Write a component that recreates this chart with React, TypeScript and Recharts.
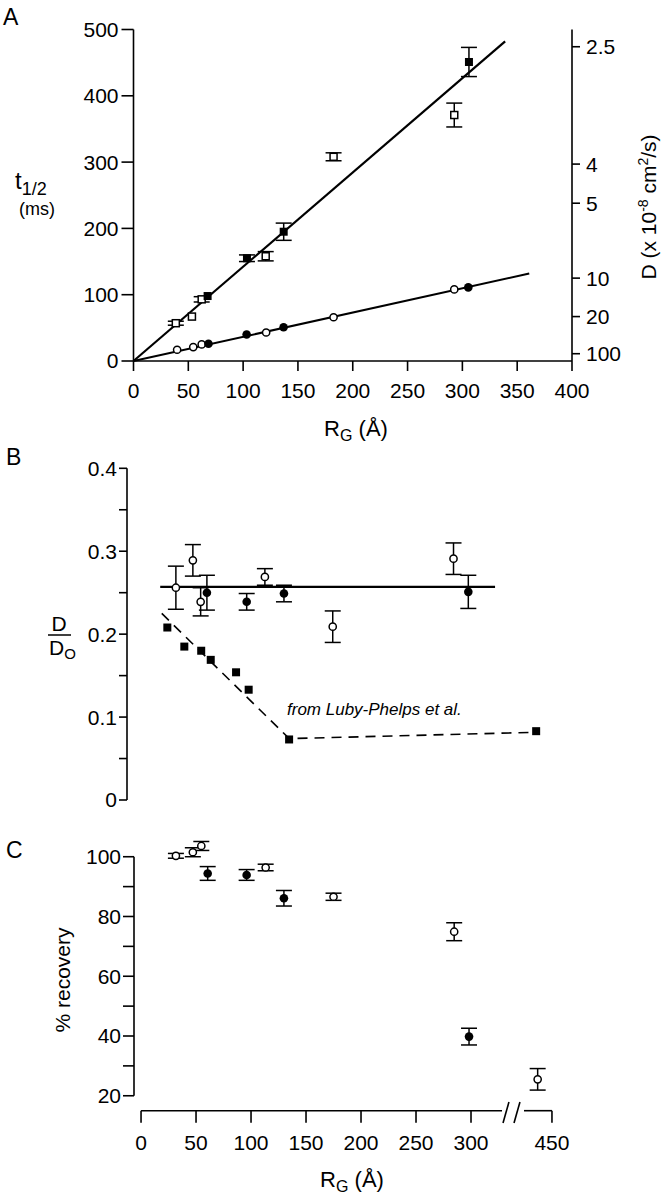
import React from "react";
import { ScatterChart, Scatter, XAxis, YAxis, ErrorBar, ReferenceLine } from "recharts";

// ---------- Panel A data (R_G in Å, t1/2 in ms) ----------
const aFilledSquares = [
  { r: 67.6, t: 98, err: 0 },
  { r: 103.5, t: 155, err: 5 },
  { r: 137, t: 195, err: 13 },
  { r: 306, t: 451, err: 22 },
];
const aOpenSquares = [
  { r: 38.6, t: 57, err: 3 },
  { r: 53.3, t: 67, err: 0 },
  { r: 62.2, t: 93, err: 4 },
  { r: 120.6, t: 158, err: 7 },
  { r: 182.5, t: 308, err: 6 },
  { r: 292.6, t: 371, err: 18 },
];
const aOpenCircles = [
  { r: 39.8, t: 17 },
  { r: 54.5, t: 21 },
  { r: 62.2, t: 25 },
  { r: 121, t: 43 },
  { r: 182.5, t: 66 },
  { r: 292.6, t: 108 },
];
const aFilledCircles = [
  { r: 68.4, t: 26 },
  { r: 103.2, t: 40 },
  { r: 136.9, t: 51 },
  { r: 305.4, t: 111 },
];
const aSteepFit = [
  { r: 0, t: 0 },
  { r: 339, t: 482 },
];
const aShallowFit = [
  { r: 0, t: 0 },
  { r: 361, t: 132 },
];
const aXTicks = [0, 50, 100, 150, 200, 250, 300, 350, 400];
const aYTicks = [0, 100, 200, 300, 400, 500];
const aRightTickT = [474, 297, 238, 125, 67, 11];
const aRightTickLabels = ["2.5", "4", "5", "10", "20", "100"];

// ---------- Panel B data (R_G in Å, D/Do) ----------
const bOpenCircles = [
  { r: 38.6, v: 0.256, err: 0.026 },
  { r: 54.1, v: 0.289, err: 0.019 },
  { r: 61.2, v: 0.239, err: 0.017 },
  { r: 119.8, v: 0.269, err: 0.01 },
  { r: 181.7, v: 0.209, err: 0.019 },
  { r: 291.9, v: 0.291, err: 0.019 },
];
const bFilledCircles = [
  { r: 66.9, v: 0.25, err: 0.021 },
  { r: 103.2, v: 0.239, err: 0.01 },
  { r: 137.2, v: 0.249, err: 0.01 },
  { r: 305.4, v: 0.251, err: 0.02 },
];
const bLubyPhelps = [
  { r: 30.8, v: 0.208 },
  { r: 46.3, v: 0.185 },
  { r: 61.7, v: 0.18 },
  { r: 70.4, v: 0.169 },
  { r: 93.5, v: 0.154 },
  { r: 105, v: 0.133 },
  { r: 141.9, v: 0.073 },
  { r: 367.3, v: 0.083 },
];
const bMeanLine = [
  { r: 24.3, v: 0.257 },
  { r: 329.8, v: 0.257 },
];
const bLubyFit = [
  { r: 25.7, v: 0.225 },
  { r: 142, v: 0.074 },
  { r: 362, v: 0.0815 },
];
const bYTicks = [0, 0.05, 0.1, 0.15, 0.2, 0.25, 0.3, 0.35, 0.4];
const bYTickLabels = ["0", "", "0.1", "", "0.2", "", "0.3", "", "0.4"];

// ---------- Panel C data (R_G in Å, % recovery) ----------
const cOpenCircles = [
  { r: 31.7, v: 100.3, err: 0.8 },
  { r: 47.1, v: 101.5, err: 1.5 },
  { r: 54.8, v: 103.6, err: 1.5 },
  { r: 113.3, v: 96.4, err: 1.1 },
  { r: 175, v: 86.6, err: 1.2 },
  { r: 284.7, v: 74.9, err: 3 },
  { r: 437, v: 25.5, err: 3.6 },
];
const cFilledCircles = [
  { r: 60.6, v: 94.4, err: 2.3 },
  { r: 96, v: 93.9, err: 1.8 },
  { r: 129.9, v: 86.1, err: 2.6 },
  { r: 298.2, v: 39.8, err: 2.8 },
];
const cXTickValues = [0, 50, 100, 150, 200, 250, 300, 450];
const cXTickLabels = ["0", "50", "100", "150", "200", "250", "300", "450"];
const cYTicks = [20, 30, 40, 50, 60, 70, 80, 90, 100];
const cYTickLabels = ["20", "", "40", "", "60", "", "80", "", "100"];

// broken x axis in panel C
const C_BREAK_AT = 320;
const C_BREAK_SHIFT = 76.4;
const toDisplay = (r: number) => (r > C_BREAK_AT ? r - C_BREAK_SHIFT : r);

const FONT = "'Liberation Sans', Arial, Helvetica, sans-serif";
const TICK = { fill: "#000", fontSize: 21, fontFamily: FONT };
const AX = { stroke: "#000", strokeWidth: 1.6 };

const FilledSquare = (p: any) => <rect x={p.cx - 4} y={p.cy - 4} width={8} height={8} fill="#000" />;
const OpenSquare = (p: any) => (
  <rect x={p.cx - 3.5} y={p.cy - 3.5} width={7} height={7} fill="#fff" stroke="#000" strokeWidth={1.5} />
);
const OpenCircle = (p: any) => <circle cx={p.cx} cy={p.cy} r={3.6} fill="#fff" stroke="#000" strokeWidth={1.5} />;
const FilledCircle = (p: any) => <circle cx={p.cx} cy={p.cy} r={4.3} fill="#000" />;
const NoShape = () => <g />;

function PanelA() {
  return (
    <ScatterChart width={664} height={440} margin={{ top: 29.5, left: 73.5, right: 32, bottom: 49 }}>
      <XAxis
        type="number"
        dataKey="r"
        domain={[0, 400]}
        ticks={aXTicks}
        interval={0}
        tickSize={10}
        tickMargin={12}
        axisLine={AX}
        tickLine={AX}
        tick={TICK}
        height={30}
      />
      <YAxis
        type="number"
        dataKey="t"
        domain={[0, 500]}
        ticks={aYTicks}
        interval={0}
        tickSize={12}
        tickMargin={3}
        axisLine={AX}
        tickLine={AX}
        tick={TICK}
        width={60}
      />
      <YAxis
        yAxisId="right"
        orientation="right"
        type="number"
        dataKey="t"
        domain={[0, 500]}
        ticks={aRightTickT}
        interval={0}
        tickFormatter={(_v: any, i: number) => aRightTickLabels[i]}
        tickSize={8}
        tickMargin={6}
        axisLine={AX}
        tickLine={AX}
        tick={TICK}
        width={60}
      />
      <Scatter data={aSteepFit} shape={NoShape} line={{ stroke: "#000", strokeWidth: 2.2 }} lineType="joint" isAnimationActive={false} />
      <Scatter
        yAxisId="right"
        data={aShallowFit}
        shape={NoShape}
        line={{ stroke: "#000", strokeWidth: 2 }}
        lineType="joint"
        isAnimationActive={false}
      />
      <Scatter data={aOpenSquares} shape={OpenSquare} isAnimationActive={false}>
        <ErrorBar dataKey="err" direction="y" width={8} stroke="#000" strokeWidth={1.5} />
      </Scatter>
      <Scatter data={aFilledSquares} shape={FilledSquare} isAnimationActive={false}>
        <ErrorBar dataKey="err" direction="y" width={8} stroke="#000" strokeWidth={1.5} />
      </Scatter>
      <Scatter data={aOpenCircles} shape={OpenCircle} isAnimationActive={false} />
      <Scatter data={aFilledCircles} shape={FilledCircle} isAnimationActive={false} />
    </ScatterChart>
  );
}

function PanelB() {
  return (
    <ScatterChart width={664} height={380} margin={{ top: 28.3, left: 67, right: 92, bottom: 20 }}>
      <XAxis type="number" dataKey="r" domain={[-6, 400]} hide />
      <YAxis
        type="number"
        dataKey="v"
        domain={[0, 0.4]}
        ticks={bYTicks}
        interval={0}
        tickFormatter={(_v: any, i: number) => bYTickLabels[i]}
        tickSize={8}
        tickMargin={2}
        axisLine={AX}
        tickLine={AX}
        tick={TICK}
        width={60}
      />
      <Scatter data={bMeanLine} shape={NoShape} line={{ stroke: "#000", strokeWidth: 2.2 }} lineType="joint" isAnimationActive={false} />
      <Scatter
        data={bLubyFit}
        shape={NoShape}
        line={{ stroke: "#000", strokeWidth: 1.6, strokeDasharray: "10 7" }}
        lineType="joint"
        isAnimationActive={false}
      />
      <Scatter data={bLubyPhelps} shape={FilledSquare} isAnimationActive={false} />
      <Scatter data={bOpenCircles} shape={OpenCircle} isAnimationActive={false}>
        <ErrorBar dataKey="err" direction="y" width={8} stroke="#000" strokeWidth={1.5} />
      </Scatter>
      <Scatter data={bFilledCircles} shape={FilledCircle} isAnimationActive={false}>
        <ErrorBar dataKey="err" direction="y" width={8} stroke="#000" strokeWidth={1.5} />
      </Scatter>
    </ScatterChart>
  );
}

function PanelC() {
  const open = cOpenCircles.map((d) => ({ x: toDisplay(d.r), v: d.v, err: d.err }));
  const filled = cFilledCircles.map((d) => ({ x: toDisplay(d.r), v: d.v, err: d.err }));
  const xTicks = cXTickValues.map(toDisplay);
  const xEnd = toDisplay(450);
  const baseY = 15;
  return (
    <ScatterChart width={664} height={380} margin={{ top: 18.8, left: 74, right: 105, bottom: 39.3 }}>
      <XAxis
        type="number"
        dataKey="x"
        domain={[-6.4, 380]}
        ticks={xTicks}
        interval={0}
        tickFormatter={(_v: any, i: number) => cXTickLabels[i]}
        tickSize={12}
        tickMargin={12}
        axisLine={false}
        tickLine={AX}
        tick={TICK}
        height={50}
      />
      <YAxis
        type="number"
        dataKey="v"
        domain={[15, 106]}
        ticks={cYTicks}
        interval={0}
        tickFormatter={(_v: any, i: number) => cYTickLabels[i]}
        tickSize={11}
        tickMargin={2}
        axisLine={false}
        tickLine={AX}
        tick={TICK}
        width={60}
      />
      {/* detached axis lines with break */}
      <ReferenceLine segment={[{ x: -6.4, y: 20 }, { x: -6.4, y: 100 }]} stroke="#000" strokeWidth={1.6} ifOverflow="visible" />
      <ReferenceLine segment={[{ x: 0, y: baseY }, { x: 328.2, y: baseY }]} stroke="#000" strokeWidth={1.6} ifOverflow="visible" />
      <ReferenceLine segment={[{ x: 348.2, y: baseY }, { x: xEnd, y: baseY }]} stroke="#000" strokeWidth={1.6} ifOverflow="visible" />
      <ReferenceLine segment={[{ x: 329.1, y: 10.9 }, { x: 334.5, y: 17.9 }]} stroke="#000" strokeWidth={1.6} ifOverflow="visible" />
      <ReferenceLine segment={[{ x: 339.1, y: 10.9 }, { x: 344.5, y: 17.9 }]} stroke="#000" strokeWidth={1.6} ifOverflow="visible" />
      <Scatter data={open} shape={OpenCircle} isAnimationActive={false}>
        <ErrorBar dataKey="err" direction="y" width={8} stroke="#000" strokeWidth={1.5} />
      </Scatter>
      <Scatter data={filled} shape={FilledCircle} isAnimationActive={false}>
        <ErrorBar dataKey="err" direction="y" width={8} stroke="#000" strokeWidth={1.5} />
      </Scatter>
    </ScatterChart>
  );
}

export default function App() {
  return (
    <div style={{ position: "absolute", left: 0, top: 0, width: 664, height: 1200, background: "#fff", fontFamily: FONT }}>
      <div style={{ position: "absolute", left: 0, top: 0 }}>
        <PanelA />
      </div>
      <div style={{ position: "absolute", left: 0, top: 440 }}>
        <PanelB />
      </div>
      <div style={{ position: "absolute", left: 0, top: 820 }}>
        <PanelC />
      </div>
      <svg
        width={664}
        height={1200}
        style={{ position: "absolute", left: 0, top: 0, pointerEvents: "none" }}
        fontFamily={FONT}
        fill="#000"
      >
        <text x={3} y={25} fontSize={23}>A</text>
        <text x={15} y={189} fontSize={24}>
          t<tspan fontSize={18} dy={6}>1/2</tspan>
        </text>
        <text x={37} y={215} fontSize={18} textAnchor="middle">(ms)</text>
        <text x={356} y={436} fontSize={22} textAnchor="middle">
          R<tspan fontSize={16} dy={5}>G</tspan>
          <tspan dy={-5}> (Å)</tspan>
        </text>
        <text x={656} y={207} fontSize={21} textAnchor="middle" transform="rotate(-90 656 207)">
          D (x 10<tspan fontSize={14} dy={-8}>-8</tspan>
          <tspan dy={8}> cm</tspan>
          <tspan fontSize={14} dy={-8}>2</tspan>
          <tspan dy={8}>/s)</tspan>
        </text>

        <text x={6} y={465} fontSize={23}>B</text>
        <text x={59} y={631} fontSize={21} textAnchor="middle">D</text>
        <line x1={48} y1={635} x2={71} y2={635} stroke="#000" strokeWidth={1.5} />
        <text x={49} y={655} fontSize={21}>
          D<tspan fontSize={15} dy={4}>O</tspan>
        </text>
        <text x={287} y={715} fontSize={17} fontStyle="italic">from Luby-Phelps et al.</text>

        <text x={6} y={858} fontSize={23}>C</text>
        <text x={70} y={980} fontSize={21} textAnchor="middle" transform="rotate(-90 70 980)">% recovery</text>
        <text x={352} y={1187} fontSize={22} textAnchor="middle">
          R<tspan fontSize={16} dy={5}>G</tspan>
          <tspan dy={-5}> (Å)</tspan>
        </text>
      </svg>
    </div>
  );
}
